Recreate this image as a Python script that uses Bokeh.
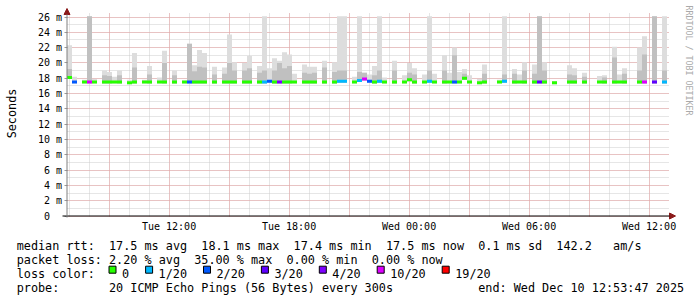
import re
import numpy as np
import pandas as pd
from bokeh.plotting import figure
from bokeh.models import (Range1d, FixedTicker, Grid, CustomJSTickFormatter,
                          DatetimeTickFormatter, Arrow, NormalHead, Label, ColumnDataSource)
from bokeh.embed import file_html
from bokeh.resources import INLINE
from bokeh.core.properties import value

N = None  # no data in this 15-minute slot

START = pd.Timestamp("2025-12-09 06:53:47")
END = pd.Timestamp("2025-12-10 12:53:47")
STEP = pd.Timedelta(minutes=15)

# median round trip time per slot (ms)
median_ms = [
    18.1, 17.5, N, 17.5, 17.5, 17.5, N, 17.5, 17.5, 17.5,
    17.5, N, 17.4, 17.5, N, 17.5, 17.5, N, 17.5, 17.5,
    N, 17.5, N, 17.5, 17.5, 17.5, 17.5, 17.5, N, 17.5,
    N, 17.5, 17.5, 17.5, N, 17.5, 17.5, N, 17.5, 17.5,
    17.6, 17.5, 17.5, 17.5, 17.5, 17.5, N, 17.5, 17.5, 17.5,
    N, 17.5, N, 17.5, 17.6, 17.6, N, 17.5, 17.7, 17.9,
    17.6, 17.5, 17.6, 17.5, N, 17.5, N, 17.5, 17.8, 17.5,
    N, 17.5, 17.6, 17.5, N, 17.5, 17.5, 17.5, 17.5, 18.0,
    17.5, N, 17.4, 17.5, N, N, 17.5, 17.6, N, 17.5,
    17.5, 17.5, N, 17.5, 17.5, 17.5, N, 17.4, N, N,
    17.5, 17.5, N, 17.5, N, N, 17.5, 17.5, N, 17.5,
    17.5, 17.5, N, N, 17.5, 17.5, N, 17.5, N, 17.5,
]
# lost pings out of 20 per slot
loss_count = [
    0, 2, N, 0, 10, 0, N, 0, 0, 0,
    0, N, 0, 0, N, 0, 0, N, 0, 0,
    N, 0, N, 0, 2, 0, 0, 0, N, 0,
    N, 0, 0, 0, N, 0, 0, N, 0, 1,
    2, 0, 7, 0, 0, 0, N, 0, 0, 0,
    N, 0, N, 0, 1, 1, N, 0, 1, 10,
    2, 0, 1, 0, N, 0, N, 0, 0, 0,
    N, 0, 1, 0, N, 0, 0, 2, 0, 0,
    0, N, 0, 0, N, N, 0, 1, N, 0,
    0, 0, N, 0, 3, 0, N, 0, N, N,
    0, 0, N, 0, N, N, 0, 0, N, 0,
    0, 0, N, N, 0, 10, N, 3, N, 1,
]
# highest ping of the slot (outer smoke)
smoke_top = [
    22.3, 18.2, N, 17.8, 26.1, 17.9, N, 19.0, 18.8, 18.2,
    19.0, N, 17.8, 21.3, N, 17.8, 19.6, N, 18.1, 21.6,
    N, 19.0, N, 17.7, 22.5, 19.7, 21.7, 21.3, N, 19.5,
    N, 19.4, 23.7, 20.1, N, 20.0, 20.9, N, 19.6, 26.1,
    19.3, 20.6, 20.3, 21.4, 21.1, 18.6, N, 19.8, 19.5, 19.5,
    N, 20.3, N, 20.1, 26.1, 26.1, N, 18.2, 26.1, 18.7,
    18.5, 19.6, 26.1, 18.1, N, 20.3, N, 18.4, 20.0, 19.3,
    N, 18.5, 26.1, 18.6, N, 21.0, 18.7, 22.0, 18.8, 19.2,
    18.4, N, 17.9, 19.8, N, N, 17.8, 26.1, N, 19.2,
    18.5, 20.1, N, 19.8, 26.1, 20.1, N, 17.6, N, N,
    19.7, 19.3, N, 18.7, N, N, 18.3, 18.4, N, 22.1,
    18.5, 19.3, N, N, 22.0, 23.5, N, 26.1, N, 26.1,
]
# inner (denser) smoke top
smoke_mid = [
    19.2, N, N, N, 26.1, N, N, 18.4, 18.3, N,
    18.4, N, N, 19.4, N, N, 18.5, N, N, 20.0,
    N, 18.4, N, N, 22.5, 18.9, 19.5, 19.4, N, 18.5,
    N, 18.6, 20.0, 19.0, N, 19.0, 19.3, N, 18.7, 19.0,
    N, 19.0, 20.0, 19.3, 19.6, N, N, 18.7, 18.6, 18.7,
    N, 19.4, N, 18.8, 19.0, 19.0, N, N, 18.8, 18.7,
    N, 18.4, 19.0, N, N, 19.0, N, N, 18.7, 18.5,
    N, N, 19.0, N, N, 19.0, N, 21.0, N, 18.6,
    N, N, N, 18.6, N, N, N, 18.5, N, 18.6,
    N, 19.0, N, 18.6, 26.1, 19.0, N, N, N, N,
    18.5, 18.4, N, 18.2, N, N, N, 18.1, N, 20.7,
    N, 18.6, N, N, 19.0, 21.1, N, 26.1, N, 19.0,
]

LOSS_LEVELS = [0, 1, 2, 3, 4, 10, 19]
LOSS_LABELS = ["0", "1/20", "2/20", "3/20", "4/20", "10/20", "19/20"]
LOSS_COLORS = ["#26ff00", "#00b8ff", "#0059ff", "#5e00ff", "#7e00ff", "#dd00ff", "#ff0000"]

Y_TICKS = list(range(0, 27, 2))
Y_MINOR = list(range(1, 27))

rtt_avg, rtt_max, rtt_min, rtt_now, rtt_sd, am_s = 17.5, 18.1, 17.4, 17.5, 0.1, 142.2
loss_avg, loss_max, loss_min, loss_now = 2.20, 35.00, 0.00, 0.00
probe_desc = "20 ICMP Echo Pings (56 Bytes) every 300s"
end_text = "end: Wed Dec 10 12:53:47 2025"
watermark = "RRDTOOL / TOBI OETIKER"
y_title = "Seconds"

# ------------------------------------------------------------------
FONT = "DejaVu Sans Mono"
W, H = 697, 297
X_LEFT, Y_ZERO = 66.5, 215.5      # pixel position of START and of 0 ms
PX_MS = 3 * 60000.0               # one pixel along x = 3 minutes
PX_Y = 26.0 / 199.0               # one pixel along y in ms


def to_ms(ts):
    return ts.value / 1e6


t_start = to_ms(START)
t_end = to_ms(END)


def sx(px):
    return t_start + (px - X_LEFT) * PX_MS


def sy(py):
    return (Y_ZERO - py) * PX_Y


def loss_color(n):
    idx = max(i for i, lv in enumerate(LOSS_LEVELS) if n >= lv)
    return LOSS_COLORS[idx]


step_ms = STEP.value / 1e6
slots = len(median_ms)
left = [t_start + i * step_ms for i in range(slots)]

light = dict(l=[], r=[], b=[], t=[])
mid = dict(l=[], r=[], b=[], t=[])
med = dict(x=[], y=[], c=[])
for i in range(slots):
    m = median_ms[i]
    if m is None:
        continue
    l, r = left[i], left[i] + step_ms
    if smoke_top[i] is not None:
        light["l"].append(l); light["r"].append(r); light["b"].append(m - 0.2); light["t"].append(smoke_top[i])
    if smoke_mid[i] is not None:
        mid["l"].append(l); mid["r"].append(r); mid["b"].append(m - 0.2); mid["t"].append(smoke_mid[i])
    med["x"].append(l + step_ms / 2); med["y"].append(m); med["c"].append(loss_color(loss_count[i]))

p = figure(width=W, height=H, output_backend="svg", toolbar_location=None,
           x_axis_type="datetime",
           x_range=Range1d(sx(0), sx(W)), y_range=Range1d(sy(H), sy(0)),
           min_border=0, min_border_left=0, min_border_right=0,
           min_border_top=0, min_border_bottom=0)
p.outline_line_color = None
p.background_fill_color = "white"
p.border_fill_color = "white"
p.grid.visible = False

hours = pd.date_range("2025-12-09 07:00", "2025-12-10 12:00", freq="h")
hour_ms = [to_ms(h) for h in hours]
major_ms = [to_ms(h) for h in hours if h.hour % 3 == 0]
label_ms = [to_ms(h) for h in hours if h.hour % 6 == 0]

GRAY = "#cccccc"
RED = "#eaa0a0"
y_top = sy(13)
x_right = sx(668)
for dim, ticks, col in [(0, hour_ms, GRAY), (1, Y_MINOR, GRAY), (0, major_ms, RED), (1, Y_TICKS, RED)]:
    cb = (0, y_top) if dim == 0 else (t_start, x_right)
    g = Grid(dimension=dim, ticker=FixedTicker(ticks=ticks), grid_line_color=col,
             grid_line_dash="1 1", grid_line_width=1, cross_bounds=cb)
    p.add_layout(g)

p.quad(left="l", right="r", bottom="b", top="t", source=ColumnDataSource(light),
       fill_color="#dddddd", line_color=None)
p.quad(left="l", right="r", bottom="b", top="t", source=ColumnDataSource(mid),
       fill_color="#c0c0c0", line_color=None)
p.rect(x="x", y="y", width=step_ms, height=3, height_units="screen",
       fill_color="c", line_color=None, source=ColumnDataSource(med))

# axes drawn at fixed data positions
p.xaxis.fixed_location = 0
p.yaxis.fixed_location = t_start
p.xaxis.ticker = FixedTicker(ticks=label_ms)
p.xaxis.formatter = DatetimeTickFormatter(hours="%a %H:%M", hourmin="%a %H:%M", days="%a %H:%M",
                                          minutes="%a %H:%M", minsec="%a %H:%M")
p.xaxis.axis_line_color = None
p.xaxis.major_tick_line_color = None
p.xaxis.minor_tick_line_color = None
p.xaxis.major_tick_out = 0
p.xaxis.major_tick_in = 0
p.xaxis.minor_tick_out = 0
p.xaxis.major_label_standoff = 5
p.yaxis.ticker = FixedTicker(ticks=Y_TICKS)
p.yaxis.formatter = CustomJSTickFormatter(code="return tick == 0 ? '0\\u00a0\\u00a0' : tick + ' m';")
p.yaxis.axis_line_color = None
p.yaxis.major_tick_line_color = "#999999"
p.yaxis.major_tick_out = 3
p.yaxis.major_tick_in = 0
p.yaxis.minor_tick_line_color = None
p.yaxis.minor_tick_out = 0
p.yaxis.major_label_standoff = 2
for ax in (p.xaxis, p.yaxis):
    ax.major_label_text_font = FONT
    ax.major_label_text_font_size = "10px"
    ax.major_label_text_color = "black"

ARROW = "#8b1a1a"
p.add_layout(Arrow(end=NormalHead(size=6, fill_color=ARROW, line_color=ARROW),
                   x_start=sx(62), y_start=0, x_end=sx(675), y_end=0,
                   line_color="black", line_width=1))
p.add_layout(Arrow(end=NormalHead(size=6, fill_color=ARROW, line_color=ARROW),
                   x_start=t_start, y_start=sy(217), x_end=t_start, y_end=sy(8),
                   line_color="#808080", line_width=1))
p.add_layout(Label(x=sx(688), y=sy(5), text=watermark, angle=-np.pi / 2,
                   text_font=FONT, text_font_size="8.3px", text_color="#aaaaaa",
                   text_align="left", text_baseline="middle"))
p.add_layout(Label(x=sx(11), y=sy(113), text=y_title, angle=np.pi / 2,
                   text_font=FONT, text_font_size="11.8px", text_color="black",
                   text_align="center", text_baseline="middle"))

# legend block -------------------------------------------------------
X0, ADV = 16.2, 7.1
tx, ty, tt = [], [], []


def put(line, py, x0=X0):
    for mt in re.finditer(r"\S+", line):
        tx.append(sx(x0 + mt.start() * ADV)); ty.append(sy(py)); tt.append(mt.group())


line1 = (f"median rtt:  {rtt_avg:.1f} ms avg  {rtt_max:.1f} ms max  {rtt_min:.1f} ms min  "
         f"{rtt_now:.1f} ms now  {rtt_sd:.1f} ms sd  {am_s:.1f}   am/s")
line2 = (f"packet loss: {loss_avg:.2f} % avg  {loss_max:.2f} % max  {loss_min:.2f} % min  "
         f"{loss_now:.2f} % now")
put(line1, 245)
put(line2, 259)
put("loss color:", 273)
put("probe:       " + probe_desc, 287)
put(end_text, 287, x0=X0 + 65 * ADV)

bx, by, bc = [], [], []
x = X0 + 13 * ADV
for lab, col in zip(LOSS_LABELS, LOSS_COLORS):
    bx.append(sx(x + 3.5)); by.append(sy(269.2)); bc.append(col)
    tx.append(sx(x + 13)); ty.append(sy(273)); tt.append(lab)
    x = x + 13 + len(lab) * ADV + 16.5

p.rect(x=bx, y=by, width=7, height=7, width_units="screen", height_units="screen",
       fill_color=bc, line_color="black", line_width=1)
p.text(x=tx, y=ty, text=tt, text_font=value(FONT), text_font_size="11.8px",
       text_baseline="alphabetic", text_align="left", text_color="black")

open("out.html", "w").write(file_html(p, INLINE))
